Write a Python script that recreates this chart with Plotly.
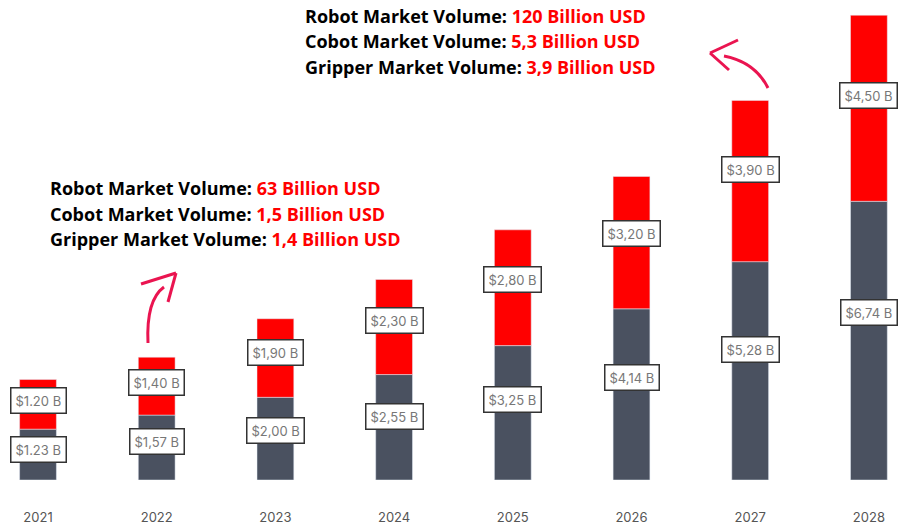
import plotly.graph_objects as go

years = ["2021", "2022", "2023", "2024", "2025", "2026", "2027", "2028"]
cobot = [1.23, 1.57, 2.00, 2.55, 3.25, 4.14, 5.28, 6.74]
gripper = [1.20, 1.40, 1.90, 2.30, 2.80, 3.20, 3.90, 4.50]
cobot_labels = ["$1.23 B", "$1,57 B", "$2,00 B", "$2,55 B", "$3,25 B", "$4,14 B", "$5,28 B", "$6,74 B"]
gripper_labels = ["$1.20 B", "$1,40 B", "$1,90 B", "$2,30 B", "$2,80 B", "$3,20 B", "$3,90 B", "$4,50 B"]

note_2022 = [("Robot Market Volume: ", "63 Billion USD"),
             ("Cobot Market Volume: ", "1,5 Billion USD"),
             ("Gripper Market Volume: ", "1,4 Billion USD")]
note_2028 = [("Robot Market Volume: ", "120 Billion USD"),
             ("Cobot Market Volume: ", "5,3 Billion USD"),
             ("Gripper Market Volume: ", "3,9 Billion USD")]

GREY = "#4a5160"
RED = "#ff0000"
PINK = "#ea1450"
W, H = 899, 525
PLOT_H = 480
XU = 118.7          # px per category
YU = 41.35          # px per billion

x = list(range(len(years)))

fig = go.Figure()
fig.add_trace(go.Bar(x=x, y=cobot, marker_color=GREY, width=0.31, hoverinfo="skip"))
fig.add_trace(go.Bar(x=x, y=gripper, base=cobot, marker_color=RED, width=0.31, hoverinfo="skip"))

# value boxes
for i in x:
    for yv, txt in [(cobot[i] * 0.6, cobot_labels[i]),
                    (cobot[i] + gripper[i] * 0.57, gripper_labels[i])]:
        fig.add_annotation(x=i, y=yv, text=txt, showarrow=False,
                           font=dict(family="Inter", size=13, color="#777777"),
                           bgcolor="white", bordercolor="#333333", borderwidth=1.5,
                           borderpad=4)


def px_to_data(px, py):
    return ((px - 38) / XU, (PLOT_H - py) / YU)


def arrow(points, head):
    # curved shaft (quadratic) + two head strokes, in pixel space converted to data
    (x0, y0), (cx, cy), (x1, y1) = [px_to_data(*p) for p in points]
    fig.add_shape(type="path", path=f"M {x0},{y0} Q {cx},{cy} {x1},{y1}",
                  line=dict(color=PINK, width=3))
    tip = px_to_data(*head[0])
    for p in head[1:]:
        a = px_to_data(*p)
        fig.add_shape(type="line", x0=a[0], y0=a[1], x1=tip[0], y1=tip[1],
                      line=dict(color=PINK, width=3))


arrow([(148, 343), (146, 300), (164, 287)], [(176, 273), (141, 284), (168, 302)])
arrow([(768, 88), (755, 62), (724, 56)], [(710, 53), (738, 40), (729, 70)])

# market notes
for (bx, by), lines in [((48, 188), note_2022), ((303, 16), note_2028)]:
    for k, (lab, val) in enumerate(lines):
        fig.add_annotation(xref="paper", yref="paper", x=bx / W, y=1 - (by + k * 25.5) / PLOT_H,
                           xanchor="left", yanchor="middle", showarrow=False,
                           text=f"<b>{lab}<span style='color:#ff0000'>{val}</span></b>",
                           font=dict(family="Open Sans", size=18, color="black"))

fig.update_layout(
    width=W, height=H,
    margin=dict(l=0, r=0, t=0, b=H - PLOT_H),
    plot_bgcolor="white", paper_bgcolor="white",
    barmode="overlay", showlegend=False,
    xaxis=dict(range=[-38 / XU, (W - 38) / XU], tickvals=x, ticktext=years,
               showgrid=False, zeroline=False, showline=False, ticks="",
               ticklabelstandoff=28, tickfont=dict(family="Inter", size=13, color="#555555")),
    yaxis=dict(range=[0, PLOT_H / YU], visible=False, fixedrange=True),
)

fig.write_html("out.html", config={"displayModeBar": False},
               post_script="document.body.style.margin='0';")
